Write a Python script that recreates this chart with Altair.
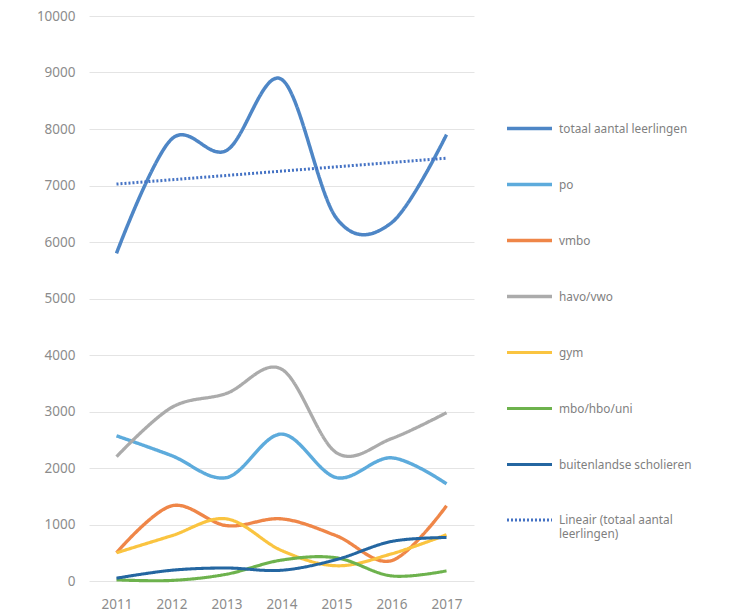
import altair as alt
import pandas as pd

years = [2011, 2012, 2013, 2014, 2015, 2016, 2017]
series_names = [
    "totaal aantal leerlingen", "po", "vmbo", "havo/vwo", "gym",
    "mbo/hbo/uni", "buitenlandse scholieren",
]
trend_name = "Lineair (totaal aantal leerlingen)"

totaal = [5800, 7820, 7620, 8880, 6420, 6340, 7900]
po = [2570, 2220, 1830, 2600, 1830, 2180, 1720]
vmbo = [500, 1330, 980, 1100, 800, 360, 1330]
havo_vwo = [2200, 3070, 3320, 3750, 2270, 2520, 2980]
gym = [500, 800, 1100, 540, 270, 480, 820]
mbo_hbo_uni = [20, 10, 120, 370, 410, 90, 180]
buitenlandse = [50, 190, 230, 190, 380, 700, 770]

values = [totaal, po, vmbo, havo_vwo, gym, mbo_hbo_uni, buitenlandse]
colors = ["#4E86C6", "#5DABDC", "#EF8648", "#ABABAB", "#FAC440",
          "#6DB24D", "#2466A1", "#4472C4"]
widths = [3.5, 3, 3, 3, 3, 3, 3, 2]
dashes = [[1, 0]] * 7 + [[2, 2]]

rows = []
for name, vals in zip(series_names, values):
    for y, v in zip(years, vals):
        rows.append({"year": y, "value": v, "series": name})
df = pd.DataFrame(rows)

domain = series_names + [trend_name]
legend = alt.Legend(
    title=None,
    labelExpr=f"datum.label == '{trend_name}' ? ['Lineair (totaal aantal', 'leerlingen)'] : datum.label",
)
color = alt.Color("series:N", scale=alt.Scale(domain=domain, range=colors),
                  legend=legend)
dash = alt.StrokeDash("series:N", scale=alt.Scale(domain=domain, range=dashes),
                      legend=legend)
sw = alt.StrokeWidth("series:N", scale=alt.Scale(domain=domain, range=widths),
                     legend=legend)

x = alt.X("year:Q", scale=alt.Scale(domain=[2010.5, 2017.5], nice=False, zero=False),
          axis=alt.Axis(values=years, format="d", title=None, grid=False,
                        domain=False, ticks=False, labelPadding=16))
y = alt.Y("value:Q", scale=alt.Scale(domain=[0, 10000], nice=False),
          axis=alt.Axis(values=list(range(0, 10001, 1000)), format="d", title=None,
                        domain=False, ticks=False, labelPadding=14,
                        gridColor="#E4E4E4", gridWidth=1))

lines = alt.Chart(df).mark_line(interpolate="cardinal").encode(
    x=x, y=y, color=color, strokeDash=dash, strokeWidth=sw,
    order="year:Q",
)

trend = alt.Chart(df).transform_filter(
    alt.datum.series == series_names[0]
).transform_regression(
    "year", "value", method="linear", extent=[2011, 2017]
).transform_calculate(
    series=f"'{trend_name}'"
).mark_line().encode(
    x=x, y=y, color=color, strokeDash=dash, strokeWidth=sw,
)

chart = alt.layer(lines, trend).properties(
    width=385, height=565,
    padding={"left": 28, "top": 1, "right": 5, "bottom": 5},
).configure_view(stroke=None).configure_axis(
    labelFont="Noto Sans", labelFontSize=13.5, labelColor="#8C8C8C",
).configure_legend(
    orient="none", legendX=416, legendY=88,
    symbolType="stroke", symbolSize=2025, symbolStrokeWidth=3,
    labelFont="Noto Sans", labelFontSize=11.8, labelColor="#7F7F7F",
    rowPadding=24, padding=0, labelOffset=5, labelLimit=300,
)

chart.save("out.html", embed_options={"renderer": "svg", "actions": False})
